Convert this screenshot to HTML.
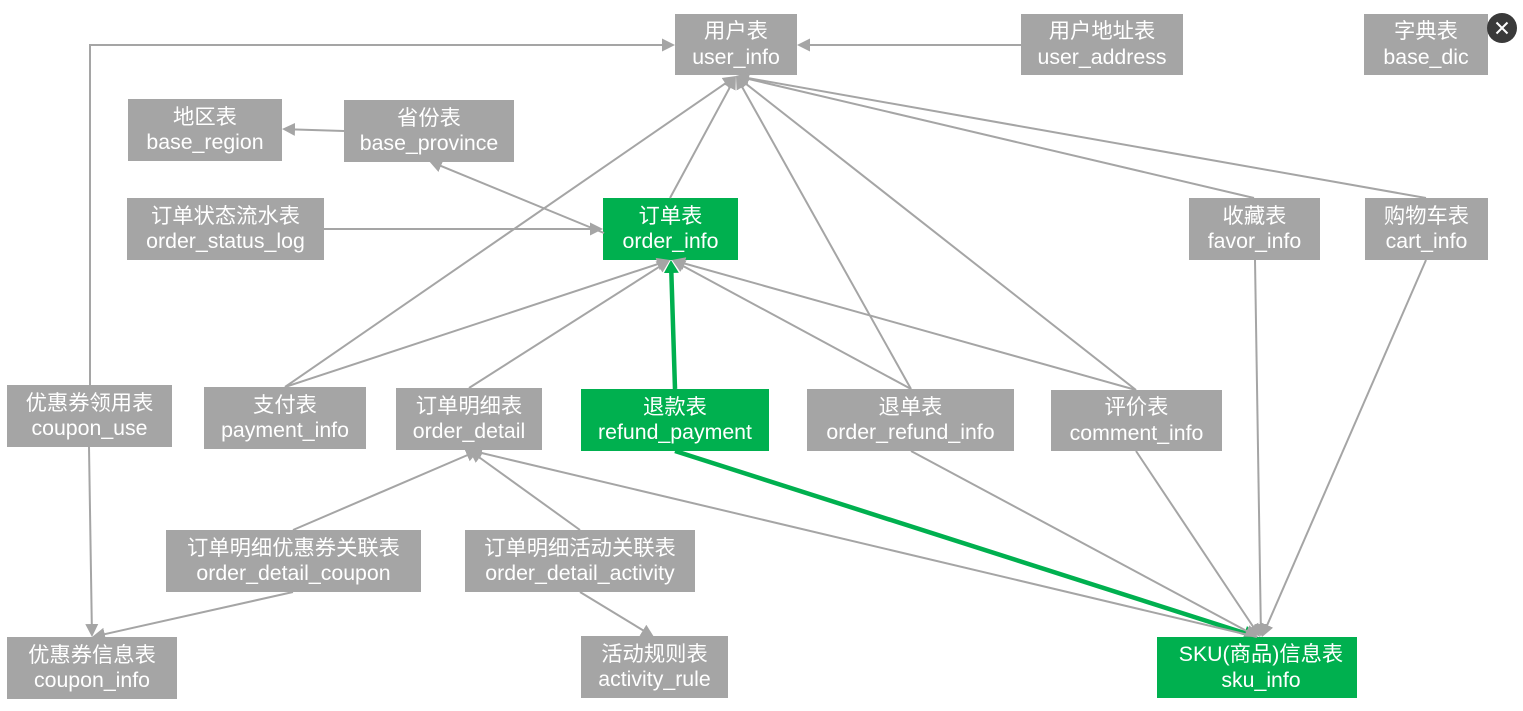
<!DOCTYPE html>
<html>
<head>
<meta charset="utf-8">
<style>
html,body{margin:0;padding:0;background:#fff}
body{width:1523px;height:711px;overflow:hidden;position:relative;font-family:"Liberation Sans","Noto Sans CJK SC",sans-serif}
#w{position:absolute;left:0;top:0;width:1523px;height:711px;filter:blur(.35px)}
svg.l{position:absolute;left:0;top:0;z-index:2}
.n{position:absolute;background:#a5a5a5;color:#fff;text-align:center;font-size:21.3px;line-height:25.5px;display:flex;flex-direction:column;justify-content:center;white-space:nowrap;box-sizing:border-box}
.g{background:#00b04f}
.x{position:absolute;left:1487px;top:13px;width:30px;height:30px;border-radius:50%;background:#3a3a3a;z-index:3}
</style>
</head>
<body>
<div id="w">
<div class="n" style="left:675px;top:14px;width:122px;height:61px">用户表<br>user_info</div>
<div class="n" style="left:1021px;top:14px;width:162px;height:61px">用户地址表<br>user_address</div>
<div class="n" style="left:1364px;top:14px;width:124px;height:61px">字典表<br>base_dic</div>
<div class="n" style="left:128px;top:99px;width:154px;height:62px">地区表<br>base_region</div>
<div class="n" style="left:344px;top:100px;width:170px;height:62px">省份表<br>base_province</div>
<div class="n" style="left:127px;top:198px;width:197px;height:62px">订单状态流水表<br>order_status_log</div>
<div class="n g" style="left:603px;top:198px;width:135px;height:62px">订单表<br>order_info</div>
<div class="n" style="left:1189px;top:198px;width:131px;height:62px">收藏表<br>favor_info</div>
<div class="n" style="left:1365px;top:198px;width:123px;height:62px">购物车表<br>cart_info</div>
<div class="n" style="left:7px;top:385px;width:165px;height:62px">优惠券领用表<br>coupon_use</div>
<div class="n" style="left:204px;top:387px;width:162px;height:62px">支付表<br>payment_info</div>
<div class="n" style="left:396px;top:388px;width:146px;height:62px">订单明细表<br>order_detail</div>
<div class="n g" style="left:581px;top:389px;width:188px;height:62px">退款表<br>refund_payment</div>
<div class="n" style="left:807px;top:389px;width:207px;height:62px">退单表<br>order_refund_info</div>
<div class="n" style="left:1051px;top:390px;width:171px;height:61px">评价表<br>comment_info</div>
<div class="n" style="left:166px;top:530px;width:255px;height:62px">订单明细优惠券关联表<br>order_detail_coupon</div>
<div class="n" style="left:465px;top:530px;width:230px;height:62px">订单明细活动关联表<br>order_detail_activity</div>
<div class="n" style="left:7px;top:637px;width:170px;height:62px">优惠券信息表<br>coupon_info</div>
<div class="n" style="left:581px;top:636px;width:147px;height:62px">活动规则表<br>activity_rule</div>
<div class="n g" style="left:1157px;top:637px;width:200px;height:61px;padding-left:8px">SKU(商品)信息表<br>sku_info</div>
<svg class="l" width="1523" height="711" viewBox="0 0 1523 711">
<defs>
<marker id="a" markerWidth="14" markerHeight="14" refX="7" refY="7" orient="auto" markerUnits="userSpaceOnUse"><path d="M0 0.5L13 7L0 13.5Z" fill="#a5a5a5"/></marker>
<marker id="b" markerWidth="14" markerHeight="15" refX="5" refY="7.5" orient="auto" markerUnits="userSpaceOnUse"><path d="M0 0L13 7.5L0 15Z" fill="#00b04f"/></marker>
</defs>
<path d="M675 451L1249.4 634.6" stroke="#00b04f" stroke-width="4.5" fill="none" marker-end="url(#b)"/>
<g stroke="#a5a5a5" stroke-width="2" fill="none">
<path d="M1021 45H803" marker-end="url(#a)"/>
<path d="M90 385V45H669" marker-end="url(#a)"/>
<path d="M344 131L288 129.2" marker-end="url(#a)"/>
<path d="M604 233L434.5 163.3" marker-end="url(#a)"/>
<path d="M324 229H597" marker-end="url(#a)"/>
<path d="M670 198L733.1 81.3" marker-end="url(#a)"/>
<path d="M285 387L731.1 79.4" marker-end="url(#a)"/>
<path d="M911 389L738.9 81.2" marker-end="url(#a)"/>
<path d="M1136 390L740.7 79.7" marker-end="url(#a)"/>
<path d="M1254 198L741.8 77.4" marker-end="url(#a)"/>
<path d="M1426 198L741.9 77" marker-end="url(#a)"/>
<path d="M285 387L664.3 261.9" marker-end="url(#a)"/>
<path d="M469 388L664.9 263.2" marker-end="url(#a)"/>
<path d="M911 389L677.3 262.9" marker-end="url(#a)"/>
<path d="M1136 390L677.8 261.6" marker-end="url(#a)"/>
<path d="M89 447L91.9 631" marker-end="url(#a)"/>
<path d="M293 530L473.5 452.5" marker-end="url(#a)"/>
<path d="M580 530L473.9 453.5" marker-end="url(#a)"/>
<path d="M293 592L97.9 635.7" marker-end="url(#a)"/>
<path d="M580 592L648.9 633.9" marker-end="url(#a)"/>
<path d="M1257 637L474.8 451.4" marker-end="url(#a)"/>
<path d="M911 451L1252.7 634.2" marker-end="url(#a)"/>
<path d="M1136 451L1256.7 632" marker-end="url(#a)"/>
<path d="M1255 260L1260.9 631" marker-end="url(#a)"/>
<path d="M1426 260L1264.4 631.5" marker-end="url(#a)"/>
</g>
<path d="M675 389L671.2 268" stroke="#00b04f" stroke-width="4.5" fill="none" marker-end="url(#b)"/>
</svg>
<div class="x"><svg width="30" height="30" viewBox="0 0 30 30"><path d="M9.5 9.5L20.5 20.5M20.5 9.5L9.5 20.5" stroke="#fff" stroke-width="2" fill="none"/></svg></div>
</div>
</body>
</html>
